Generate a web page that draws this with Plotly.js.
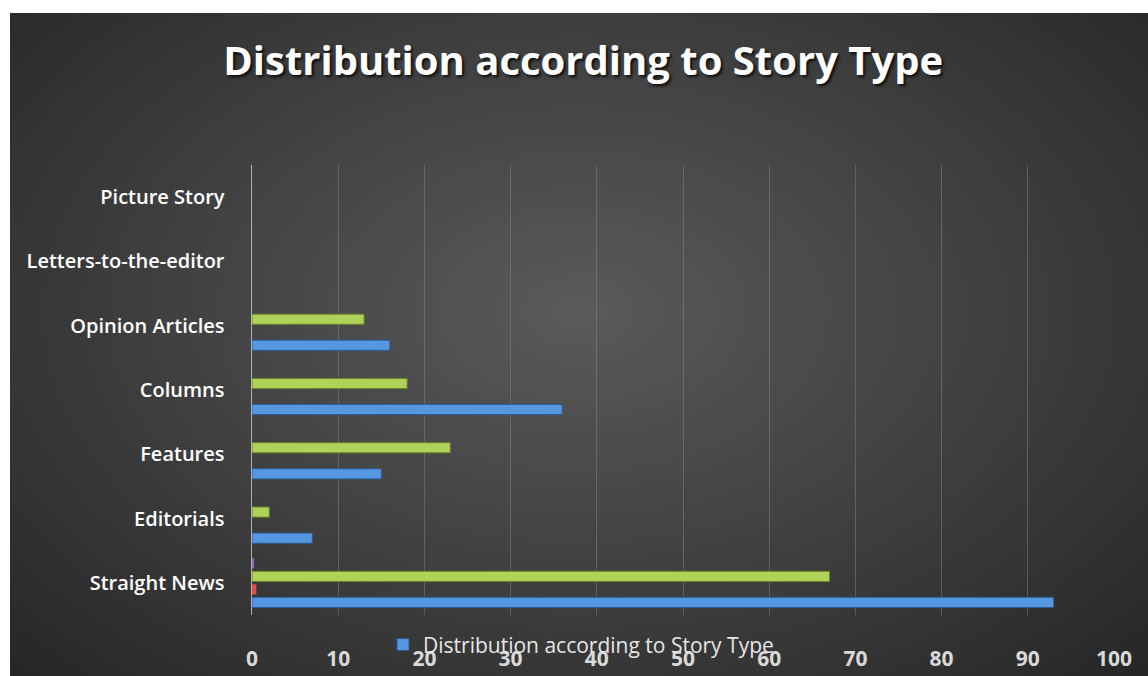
<!DOCTYPE html>
<html>
<head>
<meta charset="utf-8">
<script src="https://cdn.plot.ly/plotly-3.0.1.min.js"></script>
<style>
  html, body { margin: 0; padding: 0; background: #ffffff; }
  #wrap { position: relative; width: 1148px; height: 676px; }
  #bg { position: absolute; left: 10px; top: 13px; width: 1138px; height: 663px;
        background: radial-gradient(ellipse at 50% 45%, #5a5a5a 0%, #3e3e3e 55%, #262626 100%); }
  #chart { position: absolute; left: 0; top: 0; width: 1148px; height: 676px; }
  .gtitle { text-shadow: 2px 2px 3px rgba(0,0,0,0.8); }
</style>
</head>
<body>
<div id="wrap"><div id="bg"></div><div id="chart"></div></div>
<script>
const categories = ["Straight News", "Editorials", "Features", "Columns", "Opinion Articles", "Letters-to-the-editor", "Picture Story"];
const seriesBlue   = [93, 7, 15, 36, 16, 0, 0];
const seriesRed    = [0.5, 0, 0, 0, 0, 0, 0];
const seriesGreen  = [67, 2, 23, 18, 13, 0, 0];
const seriesPurple = [0.25, 0, 0, 0, 0, 0, 0];
const legendName = "Distribution according to Story Type";
const xTicks = [0, 10, 20, 30, 40, 50, 60, 70, 80, 90, 100];

function bar(vals, color, line, name, show) {
  return {
    type: 'bar', orientation: 'h', y: categories, x: vals, name: name, showlegend: show,
    marker: { color: color, line: { color: line, width: vals.map(v => v > 1 ? 1 : 0) } },
    hoverinfo: 'x+y'
  };
}

const data = [
  bar(seriesBlue, '#5597e0', '#2d5a96', legendName, true),
  bar(seriesRed, '#e0504a', '#9e2f2b', 'Series 2', false),
  bar(seriesGreen, '#b0d259', '#6a8428', 'Series 3', false),
  bar(seriesPurple, '#8a6bc0', '#5a4490', 'Series 4', false)
];

const layout = {
  width: 1148, height: 676,
  paper_bgcolor: 'rgba(0,0,0,0)', plot_bgcolor: 'rgba(0,0,0,0)',
  margin: { l: 252, r: 34, t: 165, b: 61, autoexpand: false },
  barmode: 'group', bargap: 0.19, bargroupgap: 0.22,
  title: { text: 'Distribution according to Story Type', x: 0.508, xanchor: 'center', y: 0.91, yanchor: 'middle',
           font: { family: 'Open Sans, sans-serif', size: 40, color: '#ffffff', weight: 700 } },
  xaxis: {
    range: [0, 100], tickvals: xTicks, ticktext: xTicks.map(String),
    showgrid: true, gridcolor: 'rgba(140,140,140,0.45)', gridwidth: 1,
    zeroline: false, showline: false, ticks: '', automargin: false,
    ticklabelstandoff: 29,
    tickfont: { family: 'Open Sans, sans-serif', size: 21, color: '#d9d9d9', weight: 700 }
  },
  yaxis: {
    type: 'category', categoryorder: 'array', categoryarray: categories,
    showgrid: false, zeroline: false, showline: true, linecolor: '#b0b0b0', linewidth: 1.5,
    ticks: '', ticklabelstandoff: 22, automargin: false,
    tickfont: { family: 'Open Sans, sans-serif', size: 20, color: '#ffffff', weight: 600 }
  },
  showlegend: true,
  legend: { orientation: 'h', x: 0.152, xanchor: 'left', y: -0.021, yanchor: 'top',
            bgcolor: 'rgba(0,0,0,0)',
            font: { family: 'Open Sans, sans-serif', size: 21, color: '#e6e6e6' } }
};

Plotly.newPlot('chart', data, layout, { displayModeBar: false, staticPlot: true });
</script>
</body>
</html>
